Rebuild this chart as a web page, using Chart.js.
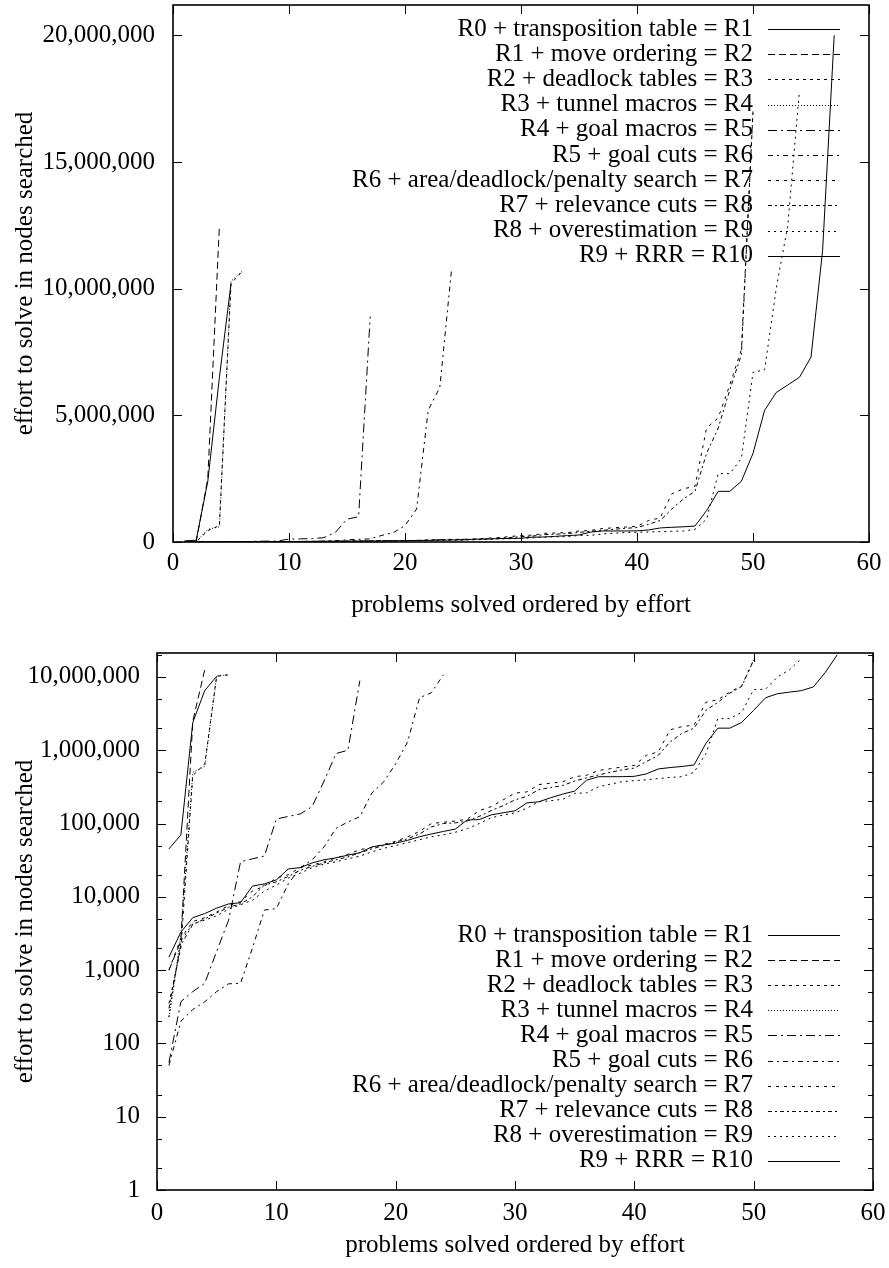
<!DOCTYPE html>
<html>
<head>
<meta charset="utf-8">
<script src="https://cdn.jsdelivr.net/npm/chart.js@4.4.1/dist/chart.umd.min.js"></script>
<style>
  body { margin: 0; background: #fff; }
  canvas { display: block; }
</style>
</head>
<body>
<canvas id="linChart" width="889" height="634"></canvas>
<canvas id="logChart" width="889" height="634"></canvas>
<script>
// series labels, in key order
const seriesNames = [
  'R0 + transposition table = R1',
  'R1 + move ordering = R2',
  'R2 + deadlock tables = R3',
  'R3 + tunnel macros = R4',
  'R4 + goal macros = R5',
  'R5 + goal cuts = R6',
  'R6 + area/deadlock/penalty search = R7',
  'R7 + relevance cuts = R8',
  'R8 + overestimation = R9',
  'R9 + RRR = R10'
];

// nodes searched per solved problem, sorted; x = 1..n
const r1 = [45000, 70000, 2400000, 6500000, 10200000];
const r2 = [1000, 2500, 2500000, 12500000];
const r3 = [350, 2000, 450000, 650000, 10200000, 10700000];
const r4 = [230, 3000, 500000, 600000, 10300000, 10700000];
const r5 = [55, 370, 510, 660, 1800, 4800, 30000, 33000, 36000, 115000, 125000, 135000,
  170000, 380000, 900000, 1000000, 8900000];
const r6 = [50, 200, 290, 370, 510, 650, 660, 2000, 6600, 6900, 15000, 25000, 32000, 48000,
  86000, 105000, 124000, 260000, 370000, 650000, 1300000, 5200000, 6100000, 10700000];
const r7 = [1000, 2700, 4600, 5200, 6200, 7600, 8600, 12000, 14000, 18000, 20000, 25000, 27000,
  30000, 34000, 38000, 44000, 47000, 52000, 57000, 66000, 78000, 100000, 104000, 108000, 115000,
  150000, 170000, 210000, 260000, 270000, 340000, 355000, 370000, 435000, 455000, 530000, 560000,
  590000, 620000, 850000, 950000, 1900000, 2100000, 2200000, 4500000, 4900000, 6200000, 7600000,
  17000000];
const r8 = [300, 2200, 4200, 5000, 6000, 7200, 8000, 10000, 14500, 16000, 19000, 23000, 26000,
  29000, 32000, 35000, 40000, 45000, 50000, 56000, 62000, 72000, 90000, 100000, 102000, 108000,
  125000, 150000, 175000, 210000, 235000, 290000, 310000, 330000, 380000, 420000, 460000, 500000,
  540000, 570000, 700000, 850000, 1300000, 1700000, 2000000, 3500000, 4500000, 6000000, 7400000,
  17000000];
const r9 = [230, 2500, 4300, 4800, 5500, 6800, 7800, 9000, 12000, 14500, 18000, 21000, 25000,
  28000, 30000, 33000, 36000, 41000, 46000, 50000, 55000, 60000, 66000, 70000, 76000, 85000,
  100000, 120000, 130000, 140000, 162000, 198000, 205000, 214000, 258000, 262000, 317000, 345000,
  372000, 385000, 395000, 410000, 425000, 435000, 500000, 900000, 2700000, 2700000, 3300000,
  6700000, 6800000, 10000000, 12500000, 17800000];
const r10 = [1500, 3300, 5200, 5900, 7000, 8000, 8300, 14000, 15000, 17000, 24000, 25000, 29000,
  32000, 34000, 37000, 40000, 48000, 51000, 54000, 59000, 66000, 72000, 78000, 84000, 112000,
  113000, 131000, 140000, 149000, 191000, 198000, 225000, 252000, 277000, 390000, 435000, 435000,
  436000, 440000, 475000, 555000, 580000, 600000, 630000, 1240000, 2000000, 2000000, 2400000,
  3500000, 5200000, 5900000, 6200000, 6500000, 7300000, 11500000, 20000000];

const allSeries = [r1, r2, r3, r4, r5, r6, r7, r8, r9, r10];

// axis ticks
const xTicks = [0, 10, 20, 30, 40, 50, 60];
const linTicks = [0, 5000000, 10000000, 15000000, 20000000];
const logTicks = [1, 10, 100, 1000, 10000, 100000, 1000000, 10000000];
const yTop = 21200000;

// gnuplot-ish dash types
const dashes = [[], [7, 4], [3, 4], [1, 2], [9, 4, 2, 4], [5, 4, 2, 4], [3, 5], [4, 3, 2, 3], [2, 4], []];

const serif = '"Liberation Serif", "Times New Roman", serif';
const font25 = { family: serif, size: 25 };

function makeSets() {
  return allSeries.map((vals, i) => ({
    label: seriesNames[i],
    data: vals.map((v, k) => ({ x: k + 1, y: v })),
    borderColor: '#000',
    borderWidth: 1,
    borderDash: dashes[i],
    pointRadius: 0,
    fill: false,
    tension: 0
  }));
}

const framePlugin = {
  id: 'frame',
  afterDraw(chart, args, opts) {
    const { ctx, chartArea: a } = chart;
    const xs = chart.scales.x, ys = chart.scales.y;
    ctx.save();
    ctx.strokeStyle = '#000';
    ctx.lineWidth = 1;
    ctx.beginPath();
    xTicks.forEach(v => {
      const px = Math.round(xs.getPixelForValue(v)) + 0.5;
      ctx.moveTo(px, a.bottom); ctx.lineTo(px, a.bottom - 9);
      ctx.moveTo(px, a.top); ctx.lineTo(px, a.top + 9);
    });
    opts.major.forEach(v => {
      const py = Math.round(ys.getPixelForValue(v)) + 0.5;
      ctx.moveTo(a.left, py); ctx.lineTo(a.left + 9, py);
      ctx.moveTo(a.right, py); ctx.lineTo(a.right - 9, py);
    });
    if (opts.log) {
      opts.major.forEach(d => {
        [2, 5].forEach(m => {
          const v = d * m;
          if (v > yTop) return;
          const py = Math.round(ys.getPixelForValue(v)) + 0.5;
          ctx.moveTo(a.left, py); ctx.lineTo(a.left + 5, py);
          ctx.moveTo(a.right, py); ctx.lineTo(a.right - 5, py);
        });
      });
    }
    ctx.stroke();
    ctx.lineWidth = 1.6;
    ctx.strokeRect(a.left, a.top, a.right - a.left, a.bottom - a.top);
    ctx.restore();
  }
};

const keyPlugin = {
  id: 'key',
  afterDatasetsDraw(chart, args, opts) {
    const ctx = chart.ctx;
    ctx.save();
    ctx.font = '25px ' + serif;
    ctx.textAlign = 'right';
    ctx.textBaseline = 'middle';
    ctx.fillStyle = '#000';
    ctx.strokeStyle = '#000';
    ctx.lineWidth = 1;
    chart.data.datasets.forEach((ds, i) => {
      const y = opts.top + i * opts.step;
      ctx.fillText(ds.label, opts.textRight, y);
      ctx.beginPath();
      ctx.setLineDash(ds.borderDash || []);
      ctx.moveTo(opts.x0, Math.round(y) + 0.5);
      ctx.lineTo(opts.x1, Math.round(y) + 0.5);
      ctx.stroke();
    });
    ctx.setLineDash([]);
    ctx.restore();
  }
};

function buildChart(id, cfg) {
  const xScale = {
    type: 'linear', min: 0, max: 60,
    afterBuildTicks: s => { s.ticks = xTicks.map(v => ({ value: v })); },
    afterFit: s => { s.height = cfg.xHeight; s.paddingLeft = 0; s.paddingRight = 0; },
    grid: { display: false, drawTicks: false },
    border: { display: false },
    ticks: { font: font25, color: '#000', padding: cfg.xTickPad, maxRotation: 0, autoSkip: false,
      callback: v => String(v) },
    title: { display: true, text: 'problems solved ordered by effort', font: font25, color: '#000',
      padding: { top: 0, bottom: cfg.xTitlePad } }
  };
  const yScale = {
    type: cfg.log ? 'logarithmic' : 'linear',
    min: cfg.log ? 1 : 0, max: yTop,
    afterBuildTicks: s => { s.ticks = cfg.yTicks.map(v => ({ value: v })); },
    afterFit: s => { s.width = cfg.yWidth; s.paddingTop = 0; s.paddingBottom = 0; },
    grid: { display: false, drawTicks: false },
    border: { display: false },
    ticks: { font: font25, color: '#000', padding: cfg.yTickPad, autoSkip: false,
      callback: v => Number(v).toLocaleString('en-US') },
    title: { display: true, text: 'effort to solve in nodes searched', font: font25, color: '#000',
      padding: { top: 10, bottom: 0 } }
  };
  return new Chart(document.getElementById(id).getContext('2d'), {
    type: 'line',
    data: { datasets: makeSets() },
    options: {
      responsive: false,
      animation: false,
      devicePixelRatio: 1,
      layout: { padding: cfg.padding },
      scales: { x: xScale, y: yScale },
      plugins: {
        legend: { display: false },
        tooltip: { enabled: false },
        frame: { major: cfg.yTicks, log: cfg.log },
        key: cfg.key
      }
    },
    plugins: [framePlugin, keyPlugin]
  });
}

buildChart('linChart', {
  log: false, yTicks: linTicks, yWidth: 173, xHeight: 92, xTickPad: 6, xTitlePad: 14, yTickPad: 18,
  padding: { top: 5, right: 20, left: 0, bottom: 0 },
  key: { top: 29, step: 25.2, textRight: 753, x0: 768, x1: 840 }
});

buildChart('logChart', {
  log: true, yTicks: logTicks, yWidth: 157, xHeight: 78, xTickPad: 8, xTitlePad: 8, yTickPad: 17,
  padding: { top: 19, right: 16, left: 0, bottom: 0 },
  key: { top: 301, step: 25.1, textRight: 753, x0: 768, x1: 840 }
});
</script>
</body>
</html>
